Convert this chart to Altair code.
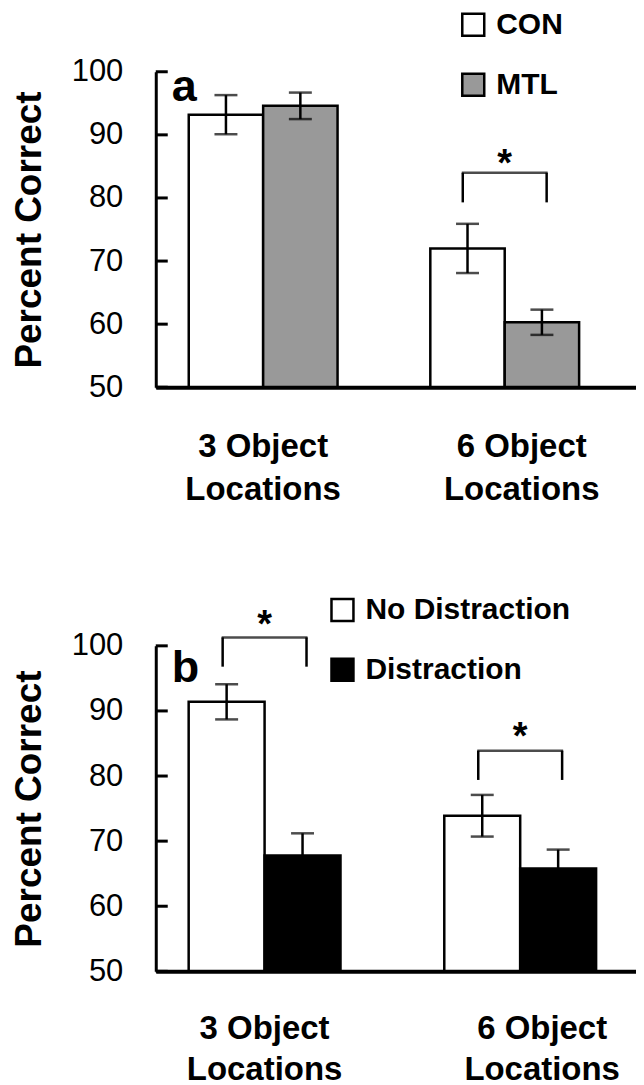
import altair as alt
import pandas as pd

FONT = "Liberation Sans"

groups = ["3 Object Locations", "6 Object Locations"]
y_ticks = [50, 60, 70, 80, 90, 100]
y_base = 50

# ---- Panel a ----
a_series = ["CON", "MTL"]
a_colors = ["#ffffff", "#999999"]
a_bar_group = ["3 Object Locations", "3 Object Locations", "6 Object Locations", "6 Object Locations"]
a_bar_series = ["CON", "MTL", "CON", "MTL"]
a_mean = [93.2, 94.6, 72.0, 60.3]
a_sem = [3.1, 2.1, 3.9, 2.0]
a_sig_group = ["6 Object Locations"]
a_sig_top = [84.0]
a_sig_leg = [79.3]
a_star_y = [83.5]
a_letter = ["a"]
a_letter_y = [95.3]

# ---- Panel b ----
b_series = ["No Distraction", "Distraction"]
b_colors = ["#ffffff", "#000000"]
b_bar_group = ["3 Object Locations", "3 Object Locations", "6 Object Locations", "6 Object Locations"]
b_bar_series = ["No Distraction", "Distraction", "No Distraction", "Distraction"]
b_mean = [91.4, 67.8, 73.9, 65.8]
b_sem = [2.7, 3.4, 3.2, 2.9]
b_sig_group = ["3 Object Locations", "6 Object Locations"]
b_sig_top = [101.3, 83.9]
b_sig_leg = [96.8, 79.4]
b_star_y = [101.3, 84.1]
b_letter = ["b"]
b_letter_y = [94.4]


def panel(series, colors, bar_group, bar_series, mean, sem, sig_group, sig_top, sig_leg,
          star_y, letter, letter_y, height, p_inner, p_outer, align, leg_x, leg_y, lab2_off,
          lab_pad, lab_lh):
    bars = pd.DataFrame({
        "group": bar_group, "series": bar_series, "mean": mean,
        "lo": [m - s for m, s in zip(mean, sem)],
        "hi": [m + s for m, s in zip(mean, sem)],
    })
    sig = pd.DataFrame({"group": sig_group, "top": sig_top, "leg": sig_leg,
                        "star": star_y, "txt": ["*"] * len(sig_group)})
    let = pd.DataFrame({"txt": letter, "y": letter_y})
    ticks = pd.DataFrame({"t": y_ticks})

    yscale = alt.Scale(domain=[50, 100], nice=False, zero=False)
    xscale = alt.Scale(domain=groups, paddingInner=p_inner, paddingOuter=p_outer, align=align)
    xaxis = alt.Axis(
        title=None, labelAngle=0, ticks=False, domainWidth=4, domainColor="black",
        labelFont=FONT, labelFontSize=33, labelFontWeight="bold", labelColor="black",
        labelPadding=lab_pad, labelBaseline="top", labelLineHeight=lab_lh, labelLimit=400,
        labelExpr="[slice(datum.label, 0, 8), slice(datum.label, 9)]",
        labelOffset={"condition": {"test": "datum.value == '6 Object Locations'", "value": lab2_off}, "value": 0},
        zindex=1,
    )
    yaxis = alt.Axis(
        title="Percent Correct", values=y_ticks, ticks=False, grid=False,
        domainWidth=3, domainColor="black",
        labelFont=FONT, labelFontSize=31, labelColor="black", labelPadding=33,
        titleFont=FONT, titleFontSize=37, titleFontWeight="bold", titleColor="black",
        titlePadding=23, zindex=1,
    )

    def Y(field):
        return alt.Y(field, scale=yscale, axis=yaxis, title="Percent Correct")

    x = alt.X("group:N", scale=xscale, sort=groups, axis=xaxis)
    xo = alt.XOffset("series:N", sort=series,
                     scale=alt.Scale(domain=series, paddingInner=0, paddingOuter=0))

    base = alt.Chart(bars)
    bar_layer = base.mark_bar(stroke="black", strokeWidth=2.5).encode(
        x=x, xOffset=xo,
        y=Y("mean:Q"), y2=alt.datum(y_base),
        fill=alt.Fill("series:N", sort=series,
                      scale=alt.Scale(domain=series, range=colors),
                      legend=alt.Legend(
                          title=None, orient="none", legendX=leg_x, legendY=leg_y,
                          symbolType="square", symbolSize=484, symbolStrokeColor="black",
                          symbolStrokeWidth=2.5, symbolOpacity=1,
                          labelFont=FONT, labelFontSize=30, labelFontWeight="bold",
                          labelColor="black", labelLimit=400, rowPadding=28, labelOffset=8,
                      )),
    )
    err = base.mark_rule(color="black", strokeWidth=2.5).encode(
        x=x, xOffset=xo, y=Y("lo:Q"), y2="hi:Q")
    cap_lo = base.mark_tick(color="black", thickness=2.5, size=23).encode(
        x=x, xOffset=xo, y=Y("lo:Q"))
    cap_hi = base.mark_tick(color="black", thickness=2.5, size=23).encode(
        x=x, xOffset=xo, y=Y("hi:Q"))

    sbase = alt.Chart(sig)
    br_top = sbase.mark_tick(color="black", thickness=2.5, size=86).encode(
        x=x, y=Y("top:Q"))
    br_l = sbase.mark_rule(color="black", strokeWidth=2.5, xOffset=-42).encode(
        x=x, y=Y("leg:Q"), y2="top:Q")
    br_r = sbase.mark_rule(color="black", strokeWidth=2.5, xOffset=42).encode(
        x=x, y=Y("leg:Q"), y2="top:Q")
    star = sbase.mark_text(font=FONT, fontSize=38, fontWeight="bold", color="black",
                           baseline="alphabetic").encode(
        x=x, y=Y("star:Q"), text="txt:N")

    letter_layer = alt.Chart(let).mark_text(
        font=FONT, fontSize=45, fontWeight="bold", color="black",
        align="left", baseline="alphabetic").encode(
        x=alt.value(16), y=Y("y:Q"), text="txt:N")

    tick_layer = alt.Chart(ticks).mark_rule(color="black", strokeWidth=3).encode(
        y=Y("t:Q"), x=alt.value(0), x2=alt.value(12))

    return alt.layer(bar_layer, err, cap_lo, cap_hi, br_top, br_l, br_r, star,
                     letter_layer, tick_layer).properties(width=481, height=height)


pa = panel(a_series, a_colors, a_bar_group, a_bar_series, a_mean, a_sem,
           a_sig_group, a_sig_top, a_sig_leg, a_star_y, a_letter, a_letter_y,
           316, 0.384, 0.186, 0.367, 303, -62, 17, 43, 43)
pb = panel(b_series, b_colors, b_bar_group, b_bar_series, b_mean, b_sem,
           b_sig_group, b_sig_top, b_sig_leg, b_star_y, b_letter, b_letter_y,
           326, 0.406, 0.1424, 0.452, 172, -51, 22, 41, 41)

chart = alt.vconcat(pa, pb, spacing=89).properties(
    padding={"left": 2, "top": 1, "right": 0, "bottom": 0}
).configure_view(stroke=None).resolve_scale(
    x="independent", xOffset="independent", y="independent", fill="independent"
)

chart.save("out.html", embed_options={"renderer": "svg", "actions": False})
